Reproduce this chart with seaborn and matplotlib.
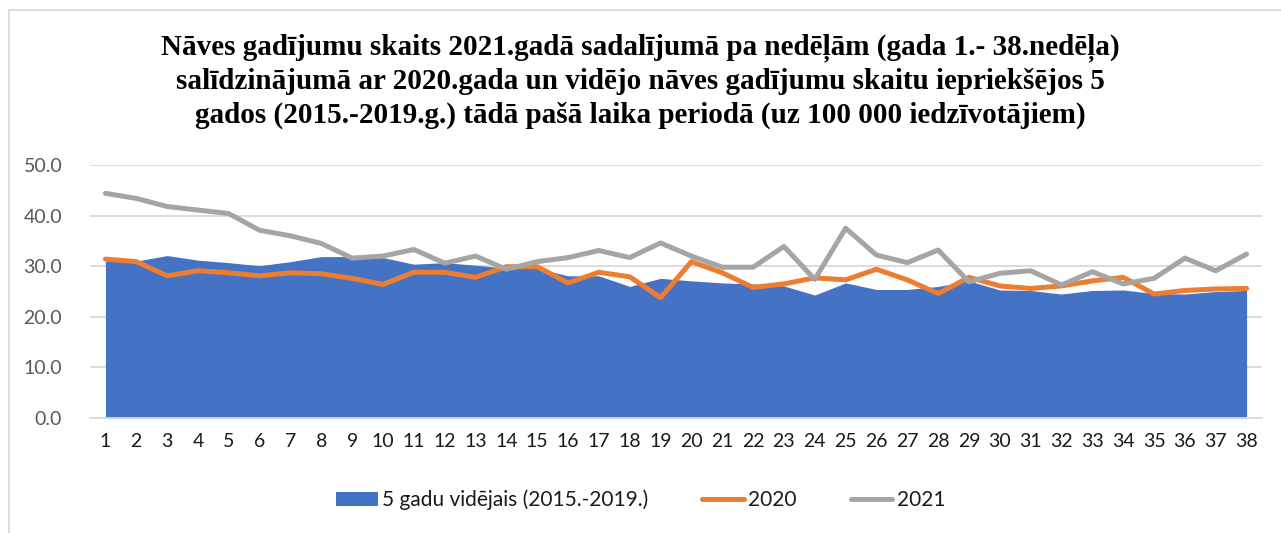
import numpy as np
import pandas as pd
import matplotlib
matplotlib.use("Agg")
import matplotlib.pyplot as plt
from matplotlib.patches import Patch, Rectangle
from matplotlib.lines import Line2D
import seaborn as sns

# weekly deaths per 100 000 inhabitants, weeks 1-38
weeks = list(range(1, 39))
avg_5y = [31.0, 31.0, 32.1, 31.2, 30.7, 30.1, 30.9, 31.9, 31.9, 31.7,
          30.4, 30.7, 30.2, 29.6, 29.6, 28.1, 28.1, 26.0, 27.6, 27.1,
          26.7, 26.5, 26.1, 24.3, 26.7, 25.4, 25.4, 26.0, 27.1, 25.3,
          25.2, 24.5, 25.2, 25.3, 24.6, 24.5, 25.0, 25.2]
deaths_2020 = [31.4, 30.9, 28.1, 29.1, 28.7, 28.1, 28.7, 28.5, 27.6, 26.4,
               28.8, 28.8, 27.8, 29.9, 29.9, 26.7, 28.8, 27.9, 23.8, 30.9,
               28.7, 25.8, 26.5, 27.7, 27.3, 29.4, 27.3, 24.6, 27.8, 26.1,
               25.6, 26.1, 27.1, 27.8, 24.5, 25.2, 25.5, 25.6]
deaths_2021 = [44.4, 43.4, 41.8, 41.1, 40.4, 37.1, 36.0, 34.5, 31.6, 32.0,
               33.3, 30.6, 32.0, 29.4, 30.9, 31.7, 33.1, 31.7, 34.6, 32.0,
               29.8, 29.8, 33.9, 27.4, 37.5, 32.2, 30.7, 33.2, 26.9, 28.6,
               29.1, 26.3, 28.9, 26.5, 27.6, 31.6, 29.1, 32.4]

labels = ["5 gadu vidējais (2015.-2019.)", "2020", "2021"]
title = ("Nāves gadījumu skaits 2021.gadā sadalījumā pa nedēļām (gada 1.- 38.nedēļa)\n"
         "salīdzinājumā ar 2020.gada un vidējo nāves gadījumu skaitu iepriekšējos 5\n"
         "gados (2015.-2019.g.) tādā pašā laika periodā (uz 100 000 iedzīvotājiem)")

blue, orange, grey = "#4472C4", "#ED7D31", "#A5A5A5"

df = pd.DataFrame({"week": weeks, "avg": avg_5y, "y2020": deaths_2020, "y2021": deaths_2021})

sns.set_theme(style="white")
plt.rcParams["font.family"] = ["Lato", "DejaVu Sans"]

fig = plt.figure(figsize=(12.81, 5.33), dpi=100)
ax = fig.add_axes([90 / 1281, 115 / 533, 1172 / 1281, 253 / 533])

ax.fill_between(df["week"], 0, df["avg"], color=blue, linewidth=0, zorder=2)
sns.lineplot(data=df, x="week", y="y2020", ax=ax, color=orange, linewidth=3.6,
             solid_capstyle="round", zorder=3)
sns.lineplot(data=df, x="week", y="y2021", ax=ax, color=grey, linewidth=3.6,
             solid_capstyle="round", zorder=4)

ax.set_xlim(0.5, 38.5)
ax.set_ylim(0, 50)
ax.set_xticks(weeks)
ax.set_xticklabels([str(w) for w in weeks])
ax.set_yticks(np.arange(0, 51, 10))
ax.set_yticklabels([f"{v:.1f}" for v in np.arange(0, 51, 10)])
ax.tick_params(axis="both", length=0, labelsize=14)
ax.tick_params(axis="x", pad=11, colors="#1a1a1a")
ax.tick_params(axis="y", pad=20, colors="#595959")
ax.set_xlabel("")
ax.set_ylabel("")
ax.grid(axis="y", color="#D9D9D9", linewidth=1.3, zorder=0)
ax.set_axisbelow(True)
for s in ["left", "right", "top"]:
    ax.spines[s].set_visible(False)
ax.spines["bottom"].set_color("#D9D9D9")
ax.spines["bottom"].set_linewidth(1.3)

fig.text(0.5, 1 - 81 / 533, title, ha="center", va="center", fontsize=21,
         fontweight="bold", family=["Liberation Serif", "DejaVu Serif"],
         linespacing=1.3, color="black")

handles = [Patch(facecolor=blue, edgecolor="none"),
           Line2D([], [], color=orange, linewidth=3.6, solid_capstyle="round"),
           Line2D([], [], color=grey, linewidth=3.6, solid_capstyle="round")]
fig.legend(handles, labels, loc="center", bbox_to_anchor=(0.5, 1 - 500 / 533),
           ncol=3, frameon=False, fontsize=15, handlelength=2.0,
           handletextpad=0.2, columnspacing=2.6, labelcolor="#1a1a1a")

fig.add_artist(Rectangle((9 / 1281, -0.05), 1.1, 1 - 10 / 533 + 0.05,
                         transform=fig.transFigure, fill=False,
                         edgecolor="#D9D9D9", linewidth=1.3))

fig.savefig("out.png", dpi=100)
